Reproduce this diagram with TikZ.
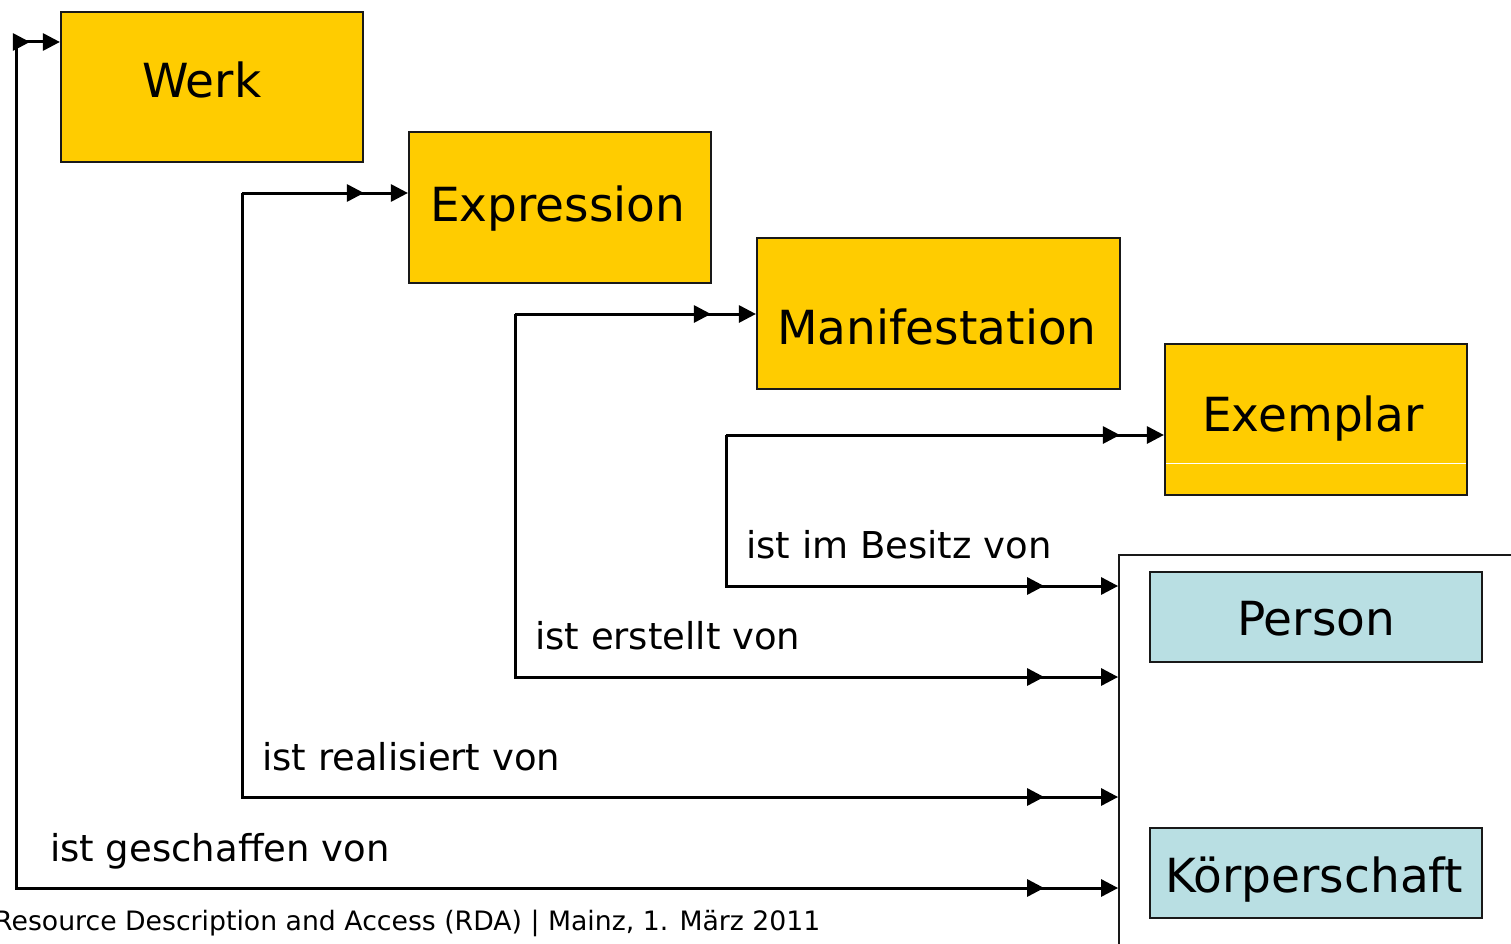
\documentclass[tikz,border=0pt]{standalone}
\usepackage{fontspec}
\setmainfont{DejaVu Sans}
\usetikzlibrary{arrows.meta,decorations.markings}
\definecolor{werkgelb}{HTML}{FFCC00}
\definecolor{hellblau}{HTML}{B9DFE3}
\tikzset{
  entity/.style={draw=black!90, line width=2.2pt, fill=werkgelb, inner sep=0pt},
  agent/.style={draw=black!90, line width=2.2pt, fill=hellblau, inner sep=0pt},
  bigtext/.style={anchor=base west, inner sep=0pt, font=\fontsize{47}{56}\selectfont},
  reltext/.style={anchor=base west, inner sep=0pt, font=\fontsize{37}{44}\selectfont},
  foottext/.style={anchor=base west, inner sep=0pt, font=\fontsize{26.7}{32}\selectfont},
  tipA/.tip={Triangle[length=17pt,width=17pt]},
  link/.style={line width=3pt, -tipA, postaction={decorate},
    decoration={markings, mark=at position #1 with {\arrow{tipA}}}},
}
\begin{document}
\begin{tikzpicture}[x=1pt,y=-1pt]
\useasboundingbox (0,0) rectangle (1511,944);
% entities
\node[entity, minimum width=302pt, minimum height=150pt] (werk) at (212,87) {};
\node[entity, minimum width=302pt, minimum height=151pt] (expr) at (560,207.5) {};
\node[entity, minimum width=363pt, minimum height=151pt] (mani) at (938.5,313.5) {};
\node[entity, minimum width=302pt, minimum height=151pt] (exem) at (1316,419.5) {};
\draw[white, line width=1pt] (1166,463) -- (1466,463);
% agent group
\node[draw=black!90, line width=1.8pt, minimum width=411pt, minimum height=405pt, inner sep=0pt] (group) at (1324.5,757.5) {};
\node[agent, minimum width=332pt, minimum height=90pt] (person) at (1316,617) {};
\node[agent, minimum width=332pt, minimum height=90pt] (koerp) at (1316,873) {};
% box texts
\node[bigtext] (twerk) at (142,98) {Werk};
\node[bigtext] (texpr) at (430,221) {Expression};
\node[bigtext] (tmani) at (777,344) {Manifestation};
\node[bigtext] (texem) at (1202,431) {Exemplar};
\node[bigtext] (tpers) at (1237,635) {Person};
\node[bigtext] (tkoerp) at (1165,892) {Körperschaft};
% relation labels
\node[reltext] (r4) at (746,558) {ist im Besitz von};
\node[reltext] (r3) at (535,649) {ist erstellt von};
\node[reltext] (r2) at (262,770) {ist realisiert von};
\node[reltext] (r1) at (50,861) {ist geschaffen von};
\node[foottext] (foot) at (-6,930) {Resource Description and Access (RDA) | Mainz, 1. März 2011};
% connectors
\coordinate (k1) at (16,42);  \coordinate (k1b) at (16,888);
\coordinate (k2) at (242,193); \coordinate (k2b) at (242,797);
\coordinate (k3) at (515,314); \coordinate (k3b) at (515,677);
\coordinate (k4) at (726,435); \coordinate (k4b) at (726,586);
\draw[link=-30pt] (k1) -- (werk.west |- k1);
\draw[link=-74pt] (k1) -- (k1b) -- (group.west |- k1b);
\draw[link=-44pt] (k2) -- (expr.west |- k2);
\draw[link=-74pt] (k2) -- (k2b) -- (group.west |- k2b);
\draw[link=-45pt] (k3) -- (mani.west |- k3);
\draw[link=-74pt] (k3) -- (k3b) -- (group.west |- k3b);
\draw[link=-44pt] (k4) -- (exem.west |- k4);
\draw[link=-74pt] (k4) -- (k4b) -- (group.west |- k4b);
\end{tikzpicture}
\end{document}
